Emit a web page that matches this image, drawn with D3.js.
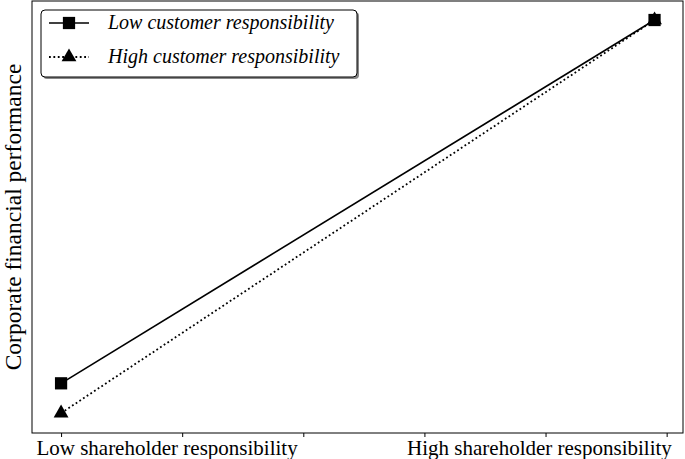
<!DOCTYPE html>
<html>
<head>
<meta charset="utf-8">
<script src="https://cdn.jsdelivr.net/npm/d3@7"></script>
<style>
  body { margin: 0; background: #fff; }
  svg text { font-family: "Liberation Serif", "DejaVu Serif", serif; fill: #000; }
</style>
</head>
<body>
<div id="chart"></div>
<script>
// x positions of the two conditions (low / high shareholder responsibility)
const xPositions = [0, 0.98];
// series values (corporate financial performance, arbitrary units)
const lowCustomer = [1.15, 9.56];
const highCustomer = [0.46, 9.56];
const seriesNames = ['Low customer responsibility', 'High customer responsibility'];
// tick marks and the two category labels
const tickValues = [0, 0.2, 0.4, 0.6, 0.8, 1.0];
const categoryLabels = ['Low shareholder responsibility', 'High shareholder responsibility'];
const categoryLabelPos = [0.175, 0.79];
const yLabel = 'Corporate financial performance';

const width = 685, height = 459;
const margin = { top: 1, right: 2, bottom: 26, left: 32 };

const svg = d3.select('#chart').append('svg')
  .attr('width', width)
  .attr('height', height);

const innerW = width - margin.left - margin.right;
const innerH = height - margin.top - margin.bottom;

const xScale = d3.scaleLinear()
  .domain([-0.048, 1.027])
  .range([0, innerW]);

const yScale = d3.scaleLinear()
  .domain([0, 10])
  .range([innerH, 0]);

const chart = svg.append('g')
  .attr('transform', `translate(${margin.left},${margin.top})`);

// frame
chart.append('rect')
  .attr('width', innerW)
  .attr('height', innerH)
  .attr('fill', 'none')
  .attr('stroke', '#000')
  .attr('stroke-width', 1);

// x axis, ticks only
const xAxis = d3.axisBottom(xScale)
  .tickValues(tickValues)
  .tickFormat('')
  .tickSizeInner(4)
  .tickSizeOuter(0);

const xAxisG = chart.append('g')
  .attr('transform', `translate(0,${innerH})`)
  .call(xAxis);
xAxisG.select('.domain').remove();
xAxisG.selectAll('line').attr('stroke', '#000');

chart.selectAll('.cat-label')
  .data(categoryLabels)
  .enter()
  .append('text')
  .attr('class', 'cat-label')
  .attr('x', (d, i) => xScale(categoryLabelPos[i]))
  .attr('y', innerH + 22)
  .attr('text-anchor', 'middle')
  .attr('font-size', 21)
  .text(d => d);

// y label
svg.append('text')
  .attr('transform', `translate(21,${margin.top + innerH / 2}) rotate(-90)`)
  .attr('text-anchor', 'middle')
  .attr('font-size', 23.5)
  .text(yLabel);

const line = d3.line()
  .x((d, i) => xScale(xPositions[i]))
  .y(d => yScale(d));

chart.append('path')
  .datum(highCustomer)
  .attr('fill', 'none')
  .attr('stroke', '#000')
  .attr('stroke-width', 1.8)
  .attr('stroke-dasharray', '1.8,2.6')
  .attr('d', line);

chart.append('path')
  .datum(lowCustomer)
  .attr('fill', 'none')
  .attr('stroke', '#000')
  .attr('stroke-width', 1.6)
  .attr('d', line);

const square = d3.symbol().type(d3.symbolSquare).size(150);
const triangle = d3.symbol().type(d3.symbolTriangle).size(95);

chart.selectAll('.tri')
  .data(highCustomer)
  .enter()
  .append('path')
  .attr('class', 'tri')
  .attr('d', triangle)
  .attr('transform', (d, i) => `translate(${xScale(xPositions[i])},${yScale(d)})`)
  .attr('fill', '#000');

chart.selectAll('.sq')
  .data(lowCustomer)
  .enter()
  .append('path')
  .attr('class', 'sq')
  .attr('d', square)
  .attr('transform', (d, i) => `translate(${xScale(xPositions[i])},${yScale(d)})`)
  .attr('fill', '#000');

// legend
const legend = svg.append('g').attr('transform', 'translate(41,10)');
legend.append('rect')
  .attr('x', 2).attr('y', 2)
  .attr('width', 316).attr('height', 67)
  .attr('rx', 4)
  .attr('fill', '#888');
legend.append('rect')
  .attr('width', 316).attr('height', 67)
  .attr('rx', 4)
  .attr('fill', '#fff')
  .attr('stroke', '#000')
  .attr('stroke-width', 1);

const rows = [
  { name: seriesNames[0], dash: null, sym: square, y: 13 },
  { name: seriesNames[1], dash: '1.8,2.6', sym: triangle, y: 47 }
];
rows.forEach(r => {
  legend.append('line')
    .attr('x1', 8).attr('x2', 48)
    .attr('y1', r.y).attr('y2', r.y)
    .attr('stroke', '#000')
    .attr('stroke-width', r.dash ? 1.8 : 1.6)
    .attr('stroke-dasharray', r.dash);
  legend.append('path')
    .attr('d', r.sym)
    .attr('transform', `translate(28,${r.y})`)
    .attr('fill', '#000');
  legend.append('text')
    .attr('x', 67)
    .attr('y', r.y + 6)
    .attr('font-size', 20)
    .attr('font-style', 'italic')
    .text(r.name);
});
</script>
</body>
</html>
